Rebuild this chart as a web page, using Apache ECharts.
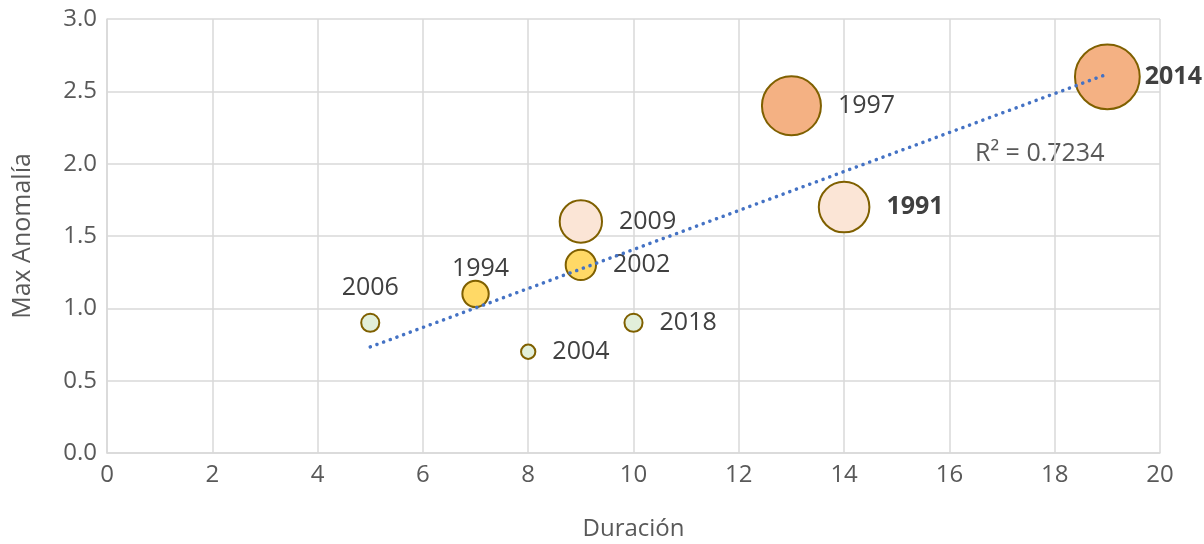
<!DOCTYPE html>
<html>
<head>
<meta charset="utf-8">
<script src="https://cdn.jsdelivr.net/npm/echarts@6/dist/echarts.min.js"></script>
<style>
	html, body { margin: 0; padding: 0; background: #fff; }
	#chart { width: 1204px; height: 544px; }
</style>
</head>
<body>
<div id="chart"></div>
<script>
ANIOS = ['2006','1994','2004','2009','2002','2018','1997','1991','2014'];
DURACION = [5, 7, 8, 9, 9, 10, 13, 14, 19];
ANOMALIA = [0.9, 1.1, 0.7, 1.6, 1.3, 0.9, 2.4, 1.7, 2.6];
MAGNITUD = [0.32, 0.68, 0.2, 1.75, 0.9, 0.32, 3.4, 2.5, 4.1];
CLASE = ['debil','moderado','debil','fuerte','moderado','debil','muy fuerte','fuerte','muy fuerte'];

X_TICKS = [0, 20, 2];
Y_TICKS = [0, 3, 0.5];

var COLORES = {'debil': '#E2EFDA', 'moderado': '#FFD966', 'fuerte': '#FBE5D6', 'muy fuerte': '#F4B183'};
var ARRIBA = ['2006', '1994'];
var NEGRITA = ['1991', '2014'];
var FONT = '"Open Sans", "Noto Sans", sans-serif';

// regresion lineal para la linea de tendencia
function tendencia(xs, ys) {
	var n = xs.length, mx = 0, my = 0;
	for (var i = 0; i < n; i++) { mx += xs[i]; my += ys[i]; }
	mx /= n; my /= n;
	var sxy = 0, sxx = 0, syy = 0;
	for (var i = 0; i < n; i++) {
		sxy += (xs[i] - mx) * (ys[i] - my);
		sxx += (xs[i] - mx) * (xs[i] - mx);
		syy += (ys[i] - my) * (ys[i] - my);
	}
	var m = sxy / sxx;
	return { m: m, b: my - m * mx, r2: sxy * sxy / (sxx * syy) };
}

var t = tendencia(DURACION, ANOMALIA);
var xmin = Math.min.apply(null, DURACION), xmax = Math.max.apply(null, DURACION);

var puntos = ANIOS.map(function(a, i) {
	var arriba = ARRIBA.indexOf(a) >= 0;
	var dist = arriba ? (a == '1994' ? 2 : 12) : (a == '2014' ? 4 : 16);
	return {
		name: a,
		value: [DURACION[i], ANOMALIA[i], MAGNITUD[i]],
		itemStyle: { color: COLORES[CLASE[i]] },
		label: {
			position: arriba ? 'top' : 'right',
			distance: dist,
			offset: a == '1994' ? [5, 4] : [0, 0],
			fontWeight: NEGRITA.indexOf(a) >= 0 ? 'bold' : 'normal'
		}
	};
});

var myChart = echarts.init(document.getElementById('chart'));
myChart.setOption({
	animation: false,
	grid: { left: 107, right: 44, top: 19, bottom: 91, containLabel: false, outerBoundsMode: 'none' },
	xAxis: {
		type: 'value', min: X_TICKS[0], max: X_TICKS[1], interval: X_TICKS[2],
		name: 'Duración', nameLocation: 'middle', nameGap: 64,
		nameTextStyle: { fontFamily: FONT, fontSize: 24, color: '#595959' },
		axisLine: { lineStyle: { color: '#D9D9D9', width: 1.5 } },
		axisTick: { show: false },
		axisLabel: { fontFamily: FONT, fontSize: 24, color: '#595959', margin: 10 },
		splitLine: { lineStyle: { color: '#D9D9D9', width: 1.5 } }
	},
	yAxis: {
		type: 'value', min: Y_TICKS[0], max: Y_TICKS[1], interval: Y_TICKS[2],
		name: 'Max Anomalía', nameLocation: 'middle', nameGap: 72,
		nameTextStyle: { fontFamily: FONT, fontSize: 25, color: '#595959' },
		axisLine: { show: true, lineStyle: { color: '#D9D9D9', width: 1.5 } },
		axisTick: { show: false },
		axisLabel: { fontFamily: FONT, fontSize: 24, color: '#595959', margin: 10,
			formatter: function(v) { return v.toFixed(1); } },
		splitLine: { lineStyle: { color: '#D9D9D9', width: 1.5 } }
	},
	series: [{
		type: 'scatter',
		data: puntos,
		symbolSize: function(v) { return 32 * Math.sqrt(v[2]); },
		itemStyle: { borderColor: '#7F6000', borderWidth: 2, opacity: 1 },
		label: {
			show: true, formatter: '{b}',
			fontFamily: FONT, fontSize: 25, color: '#404040'
		},
		z: 2
	}, {
		type: 'line',
		data: [[xmin, t.m * xmin + t.b], [xmax, t.m * xmax + t.b]],
		symbol: 'none',
		lineStyle: { color: '#4472C4', width: 3.5, type: [0.1, 7], cap: 'round' },
		z: 3
	}],
	graphic: [{
		type: 'text', left: 975, top: 141,
		style: { text: 'R² = ' + t.r2.toFixed(4), font: '25px ' + FONT, fill: '#595959' }
	}]
});
</script>
</body>
</html>
